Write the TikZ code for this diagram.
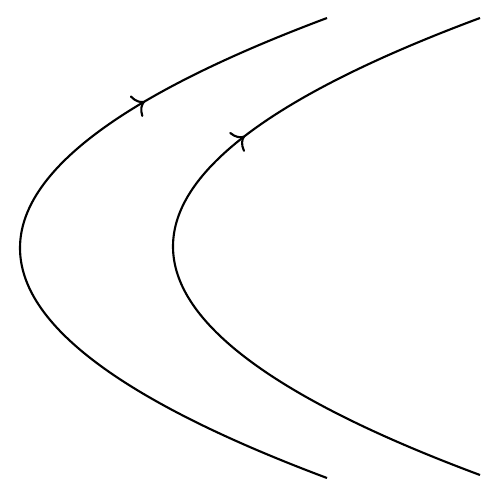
\documentclass[tikz,border=0pt]{standalone}
\usetikzlibrary{arrows.meta,decorations.markings}
\tikzset{
  curve/.style={line width=1.2pt, black},
  arrowat/.style={postaction={decorate},
    decoration={markings, mark=at position #1 with {\arrow{Computer Modern Rightarrow[length=6pt,width=14pt,line width=1.2pt]}}}}
}
\begin{document}
\begin{tikzpicture}[x=0.02cm,y=-0.02cm]
\useasboundingbox (0,0) rectangle (500,500);
\coordinate (a0) at (327,478);
\coordinate (ac1) at (-82.33,324.67);
\coordinate (ac2) at (-82.33,171.33);
\coordinate (a1) at (327,18);
\coordinate (b0) at (480,475);
\coordinate (bc1) at (70.67,322.67);
\coordinate (bc2) at (70.67,170.33);
\coordinate (b1) at (480,18);
\draw[curve, arrowat=0.75] (a0) .. controls (ac1) and (ac2) .. (a1);
\draw[curve, arrowat=0.67] (b0) .. controls (bc1) and (bc2) .. (b1);
\end{tikzpicture}
\end{document}
